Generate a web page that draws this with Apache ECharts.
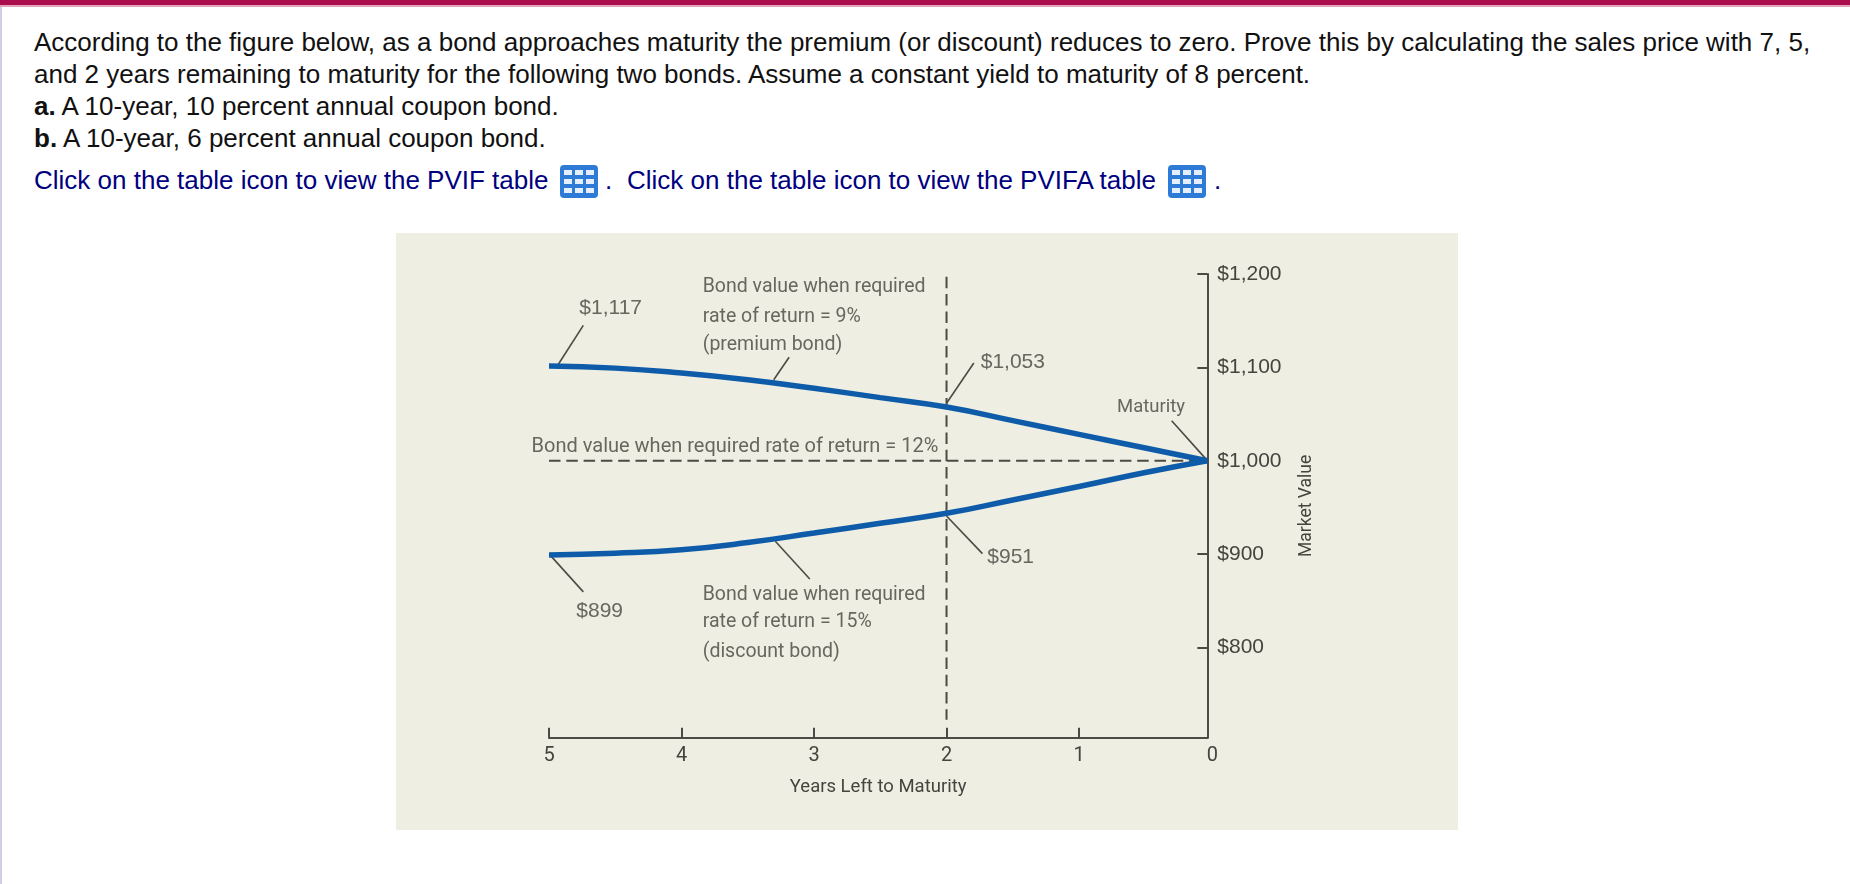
<!DOCTYPE html>
<html>
<head>
<meta charset="utf-8">
<title>Bond value approaching maturity</title>
<style>
  html, body { margin: 0; padding: 0; background: #fff; width: 1850px; height: 884px; overflow: hidden; }
  .bar { position: absolute; left: 0; top: 0; width: 1850px; height: 5px; background: #ab0d4c; border-bottom: 2px solid #e3a3bb; }
  .side { position: absolute; left: 0; top: 7px; width: 2px; height: 877px; background: #cfcfe6; }
  .t { position: absolute; font-family: "Liberation Sans", Arial, sans-serif; font-size: 26px; line-height: 32px; color: #111; white-space: pre; }
  .lk { color: #00007f; }
  .icon { position: absolute; top: 165px; width: 38px; height: 33px; background: #2d7bd6; border-radius: 4px; box-sizing: border-box; padding: 5px 4px; display: grid; grid-template-columns: repeat(3, 1fr); grid-template-rows: repeat(3, 1fr); gap: 4px 3px; }
  .icon i { background: #e4effb; display: block; }
  #panel { position: absolute; left: 396px; top: 233px; width: 1062px; height: 597px; background: #eeeee2; }
  #chart { width: 1062px; height: 597px; }
</style>
</head>
<body>
<div class="bar"></div>
<div class="side"></div>
<div class="t" style="left:34px;top:26px">According to the figure below, as a bond approaches maturity the premium (or discount) reduces to zero. Prove this by calculating the sales price with 7, 5,</div>
<div class="t" style="left:34px;top:58px">and 2 years remaining to maturity for the following two bonds. Assume a constant yield to maturity of 8 percent.</div>
<div class="t" style="left:34px;top:90px"><b>a.</b> A 10-year, 10 percent annual coupon bond.</div>
<div class="t" style="left:34px;top:122px"><b>b.</b> A 10-year, 6 percent annual coupon bond.</div>
<div class="t lk" style="left:34px;top:164px">Click on the table icon to view the PVIF table</div>
<div class="icon" style="left:560px"><i></i><i></i><i></i><i></i><i></i><i></i><i></i><i></i><i></i></div>
<div class="t lk" style="left:605px;top:164px">.</div>
<div class="t lk" style="left:627px;top:164px">Click on the table icon to view the PVIFA table</div>
<div class="icon" style="left:1168px"><i></i><i></i><i></i><i></i><i></i><i></i><i></i><i></i><i></i></div>
<div class="t lk" style="left:1214px;top:164px">.</div>
<div id="panel"><div id="chart"></div></div>

<script src="https://cdn.jsdelivr.net/npm/echarts@6/dist/echarts.min.js"></script>
<script>
// ---- data ----
const yearsLeft = [5, 4.5, 4, 3.5, 3, 2.5, 2, 1.5, 1, 0.5, 0.032];
const premiumBond = [1101.4, 1099.2, 1094, 1086.8, 1077.6, 1067.6, 1057.5, 1043, 1028.3, 1013.6, 1000];
const discountBond = [899.1, 900.9, 904.7, 912.4, 922.6, 933.1, 943.7, 958, 972.4, 987.4, 1000];
const parValueLine = [[5, 1000], [2, 1000], [0.032, 1000]];
const twoYearsLine = [[2, 1197], [2, 722.6]];
const xTickValues = [5, 4, 3, 2, 1, 0.032];
const yTickValues = [800, 900, 1000, 1100, 1200];
const leaders = [
  [[4.741, 1145], [4.939, 1101.2]],
  [[3.188, 1110.9], [3.304, 1086.7]],
  [[1.794, 1104.7], [2, 1061.6]],
  [[0.301, 1042.9], [0.038, 1001.2]],
  [[1.729, 900.5], [2, 940.8]],
  [[3.032, 873.4], [3.292, 913.8]],
  [[4.741, 859.6], [4.993, 899.2]]
];
const notes = [
  [3.84, 1186.3, 'Bond value when required'],
  [3.84, 1154.2, 'rate of return = 9%'],
  [3.84, 1123.8, '(premium bond)'],
  [3.84, 856.4, 'Bond value when required'],
  [3.84, 827.6, 'rate of return = 15%'],
  [3.84, 794.7, '(discount bond)']
];
const shortNotes = [
  [0.713, 1057.5, 'Maturity']
];
const valueNotes = [
  [4.771, 1163.4, '$1,117'],
  [4.794, 838.8, '$899'],
  [1.742, 1105.5, '$1,053'],
  [1.692, 897.1, '$951']
];
const rightAlignedNotes = [
  [2.061, 1015, 'Bond value when required rate of return = 12%']
];
const xAxisTitle = 'Years Left to Maturity';
const yAxisTitle = 'Market Value';

// ---- styling ----
const ink = '#4b4a44';
const textInk = '#45443f';
const blue = '#0e5ca9';
const narrow = 'Roboto, "Liberation Sans", Arial, sans-serif';
const regular = '"Liberation Sans", Arial, sans-serif';

function zip(xs, ys) { return xs.map((x, i) => [x, ys[i]]); }

function noteSeries(data, align, font, size) {
  return {
    type: 'scatter', data: data, symbolSize: 0, clip: false, silent: true, z: 6,
    label: {
      show: true, position: 'inside', align: align, verticalAlign: 'middle',
      color: textInk, fontFamily: font, fontSize: size,
      formatter: p => p.data[2]
    }
  };
}

const series = [
  { type: 'line', data: parValueLine, symbol: 'none', silent: true, z: 2,
    lineStyle: { color: ink, width: 2, type: [11.5, 5.8] } },
  { type: 'line', data: twoYearsLine, symbol: 'none', silent: true, z: 2,
    lineStyle: { color: ink, width: 2, type: [11.5, 5.8] } }
];
leaders.forEach(l => series.push({
  type: 'line', data: l, symbol: 'none', silent: true, z: 3,
  lineStyle: { color: ink, width: 1.6 }
}));
[premiumBond, discountBond].forEach(vals => series.push({
  type: 'line', data: zip(yearsLeft, vals), symbol: 'none', smooth: 0.5, smoothMonotone: 'none',
  silent: true, z: 4, lineStyle: { color: blue, width: 5.5 }
}));
series.push(noteSeries(notes, 'left', narrow, 19.5));
series.push(noteSeries(shortNotes, 'left', narrow, 18.5));
series.push(noteSeries(valueNotes, 'left', regular, 21));
series.push(noteSeries(rightAlignedNotes, 'right', narrow, 20));

const chart = echarts.init(document.getElementById('chart'), null, { renderer: 'canvas' });
chart.setOption({
  animation: false,
  backgroundColor: 'transparent',
  tooltip: { show: false },
  grid: { left: 153, right: 250.7, top: 41, bottom: 92.2 },
  xAxis: {
    type: 'value', inverse: true, min: 0.032, max: 5,
    name: xAxisTitle, nameLocation: 'middle', nameGap: 40,
    nameTextStyle: { color: textInk, fontFamily: narrow, fontSize: 18.5 },
    splitLine: { show: false },
    axisLine: { show: true, onZero: false, lineStyle: { color: ink, width: 2 } },
    axisTick: { show: true, inside: true, length: 10, lineStyle: { color: ink, width: 2 }, customValues: xTickValues },
    axisLabel: {
      color: textInk, fontFamily: narrow, fontSize: 20, margin: 8,
      customValues: xTickValues, showMinLabel: true, showMaxLabel: true,
      formatter: v => (v < 0.5 ? '{z|0}' : String(Math.round(v))),
      rich: { z: { color: textInk, fontFamily: narrow, fontSize: 20, padding: [0, 0, 0, 10] } }
    }
  },
  yAxis: {
    type: 'value', position: 'right', min: 703.3, max: 1200,
    name: yAxisTitle, nameLocation: 'middle', nameRotate: 90, nameGap: 90,
    nameTextStyle: { color: textInk, fontFamily: narrow, fontSize: 17.5, fontWeight: 'normal' },
    splitLine: { show: false },
    axisLine: { show: true, onZero: false, lineStyle: { color: ink, width: 2 } },
    axisTick: { show: true, inside: true, length: 10, lineStyle: { color: ink, width: 2 }, customValues: yTickValues },
    axisLabel: {
      color: textInk, fontFamily: regular, fontSize: 21, margin: 10,
      customValues: yTickValues, padding: [2, 0, 0, 0],
      formatter: v => '$' + v.toLocaleString('en-US')
    }
  },
  series: series
});
</script>
</body>
</html>
